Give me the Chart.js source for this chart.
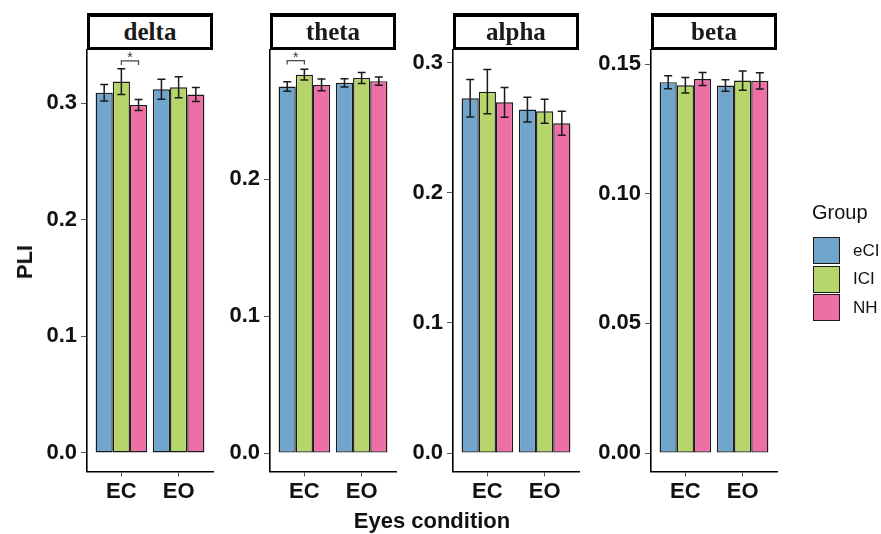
<!DOCTYPE html>
<html>
<head>
<meta charset="utf-8">
<script src="https://cdn.jsdelivr.net/npm/chart.js@4.4.1/dist/chart.umd.min.js"></script>
<style>
  body { margin: 0; background: #fff; }
  #wrap { position: relative; width: 881px; height: 534px; font-family: 'Liberation Sans', Arial, sans-serif; color: #111; }
  #wrap canvas { position: absolute; left: 0; top: 0; }
  .strip { position: absolute; top: 13px; height: 37px; box-sizing: border-box; border: 3px solid #000; border-top-width: 4px; background: #fff;
           font-family: 'Liberation Serif', 'Times New Roman', serif; font-weight: bold; font-size: 25px;
           color: #1a1a1a; text-align: center; line-height: 29px; }
  .lab { position: absolute; transform: translate(-50%, -50%); white-space: nowrap; font-weight: bold; font-size: 22px; color: #111; }
  .key { position: absolute; left: 813px; width: 27px; height: 27px; box-sizing: border-box; border: 1.5px solid #1a1a1a; }
  .keytxt { position: absolute; left: 853px; font-size: 17px; color: #111; transform: translateY(-50%); }
</style>
</head>
<body>
<div id="wrap">
  <canvas id="c0" width="881" height="534"></canvas>
  <canvas id="c1" width="881" height="534"></canvas>
  <canvas id="c2" width="881" height="534"></canvas>
  <canvas id="c3" width="881" height="534"></canvas>
  <div id="strips"></div>
  <div class="lab" style="left:25px; top:262px; transform:translate(-50%,-50%) rotate(-90deg);">PLI</div>
  <div class="lab" style="left:432px; top:521px;">Eyes condition</div>
  <div id="legend">
    <div style="position:absolute; left:812px; top:201px; font-size:20px; color:#111;">Group</div>
  </div>
</div>
<script>
// facets, groups and conditions
const bands = ['delta', 'theta', 'alpha', 'beta'];
const groups = ['eCI', 'ICI', 'NH'];
const conditions = ['EC', 'EO'];
const groupColors = ['#72A5CC', '#B6D66B', '#EE6FA6'];

// mean PLI, one row per group (eCI, ICI, NH), columns = EC, EO
const deltaMeans = [[0.309, 0.312], [0.3186, 0.3137], [0.2986, 0.3075]];
const thetaMeans = [[0.2679, 0.2706], [0.2766, 0.2742], [0.2691, 0.2718]];
const alphaMeans = [[0.2727, 0.264], [0.2778, 0.2627], [0.2696, 0.2535]];
const betaMeans  = [[0.143, 0.1417], [0.1418, 0.1436], [0.1442, 0.1435]];

// error bar half lengths, same layout
const deltaErrors = [[0.007, 0.0085], [0.011, 0.009], [0.0047, 0.006]];
const thetaErrors = [[0.0035, 0.003], [0.004, 0.004], [0.0043, 0.003]];
const alphaErrors = [[0.0144, 0.0095], [0.017, 0.0093], [0.0114, 0.0092]];
const betaErrors  = [[0.0025, 0.0022], [0.003, 0.0037], [0.0025, 0.0031]];

// y ticks and y limits per facet
const deltaTicks = [0, 0.1, 0.2, 0.3];
const thetaTicks = [0, 0.1, 0.2];
const alphaTicks = [0, 0.1, 0.2, 0.3];
const betaTicks  = [0, 0.05, 0.10, 0.15];
const tickDecimals = [1, 1, 1, 2];
const yMins = [-0.0159, -0.0135, -0.0142, -0.0071];
const yMaxs = [0.3457, 0.2946, 0.3098, 0.1554];

// significance brackets (facet, condition, pair of groups, bracket height)
const sigBands = ['delta', 'theta'];
const sigConditions = ['EC', 'EC'];
const sigPairs = [['ICI', 'NH'], ['eCI', 'ICI']];
const sigLevels = [0.3363, 0.2869];
const sigLabels = ['*', '*'];

const allMeans = [deltaMeans, thetaMeans, alphaMeans, betaMeans];
const allErrors = [deltaErrors, thetaErrors, alphaErrors, betaErrors];
const allTicks = [deltaTicks, thetaTicks, alphaTicks, betaTicks];

// layout
const panelLeft = [87, 270, 453, 651];
const PANEL_W = 126;
const PANEL_TOP = 50;
const PANEL_BOTTOM = 471.5;
const Y_AXIS_W = 60;
const X_AXIS_H = 40;
const INK = '#1a1a1a';

const errorBars = {
  id: 'errorBars',
  afterDatasetsDraw(chart) {
    const ctx = chart.ctx;
    const y = chart.scales.y;
    const errs = chart.options.plugins.errorBars.errors;
    const means = chart.options.plugins.errorBars.means;
    ctx.save();
    ctx.strokeStyle = INK;
    ctx.lineWidth = 1.5;
    chart.data.datasets.forEach((ds, gi) => {
      const meta = chart.getDatasetMeta(gi);
      meta.data.forEach((bar, ci) => {
        const m = means[gi][ci], e = errs[gi][ci];
        const top = y.getPixelForValue(m + e), bot = y.getPixelForValue(m - e);
        ctx.beginPath();
        ctx.moveTo(bar.x, top); ctx.lineTo(bar.x, bot);
        ctx.moveTo(bar.x - 4, top); ctx.lineTo(bar.x + 4, top);
        ctx.moveTo(bar.x - 4, bot); ctx.lineTo(bar.x + 4, bot);
        ctx.stroke();
      });
    });
    // brackets
    const band = chart.options.plugins.errorBars.band;
    sigBands.forEach((b, k) => {
      if (b !== band) return;
      const ci = conditions.indexOf(sigConditions[k]);
      const x1 = chart.getDatasetMeta(groups.indexOf(sigPairs[k][0])).data[ci].x;
      const x2 = chart.getDatasetMeta(groups.indexOf(sigPairs[k][1])).data[ci].x;
      const yy = y.getPixelForValue(sigLevels[k]);
      ctx.strokeStyle = '#444';
      ctx.lineWidth = 1.2;
      ctx.beginPath();
      ctx.moveTo(x1, yy + 4); ctx.lineTo(x1, yy); ctx.lineTo(x2, yy); ctx.lineTo(x2, yy + 4);
      ctx.stroke();
      ctx.fillStyle = '#333';
      ctx.font = '14px "Liberation Sans", Arial, sans-serif';
      ctx.textAlign = 'center';
      ctx.textBaseline = 'alphabetic';
      ctx.fillText(sigLabels[k], (x1 + x2) / 2, yy + 1.5);
    });
    ctx.restore();
  }
};

const tickFont = { family: "'Liberation Sans', Arial, sans-serif", size: 22, weight: 'bold' };

bands.forEach((band, p) => {
  const means = allMeans[p];
  const ticks = allTicks[p];
  const datasets = groups.map((g, gi) => ({
    label: g,
    data: conditions.map((c, ci) => ({ x: ci + 1, y: means[gi][ci] })),
    backgroundColor: groupColors[gi],
    borderColor: INK,
    borderWidth: 1.4,
    borderSkipped: false,
    categoryPercentage: 0.9,
    barPercentage: 1
  }));

  new Chart(document.getElementById('c' + p), {
    type: 'bar',
    data: { datasets },
    options: {
      responsive: false,
      animation: false,
      events: [],
      layout: {
        padding: {
          left: panelLeft[p] - Y_AXIS_W,
          right: 881 - panelLeft[p] - PANEL_W,
          top: PANEL_TOP,
          bottom: 534 - PANEL_BOTTOM - X_AXIS_H
        }
      },
      plugins: {
        legend: { display: false },
        tooltip: { enabled: false },
        errorBars: { errors: allErrors[p], means: means, band: band }
      },
      scales: {
        x: {
          type: 'linear',
          min: 0.4, max: 2.6,
          offset: false,
          afterBuildTicks: s => { s.ticks = conditions.map((c, i) => ({ value: i + 1 })); },
          afterFit: s => { s.height = X_AXIS_H; },
          ticks: { callback: v => conditions[v - 1], font: tickFont, color: '#111', padding: 2, maxRotation: 0, autoSkip: false },
          grid: { drawOnChartArea: false, drawTicks: true, tickLength: 5, color: '#555', offset: false },
          border: { display: true, color: '#000', width: 1.6 }
        },
        y: {
          min: yMins[p], max: yMaxs[p],
          afterBuildTicks: s => { s.ticks = ticks.map(v => ({ value: v })); },
          afterFit: s => { s.width = Y_AXIS_W; },
          ticks: { callback: v => v.toFixed(tickDecimals[p]), font: tickFont, color: '#111', padding: 4 },
          grid: { drawOnChartArea: false, drawTicks: true, tickLength: 6, color: '#555' },
          border: { display: true, color: '#000', width: 1.6 }
        }
      }
    },
    plugins: [errorBars]
  });

  const s = document.createElement('div');
  s.className = 'strip';
  s.style.left = panelLeft[p] + 'px';
  s.style.width = PANEL_W + 'px';
  s.textContent = band;
  document.getElementById('strips').appendChild(s);
});

// legend keys
const legend = document.getElementById('legend');
groups.forEach((g, gi) => {
  const top = 237 + gi * 28.7;
  const k = document.createElement('div');
  k.className = 'key';
  k.style.top = top + 'px';
  k.style.background = groupColors[gi];
  legend.appendChild(k);
  const t = document.createElement('div');
  t.className = 'keytxt';
  t.style.top = (top + 13.5) + 'px';
  t.textContent = g;
  legend.appendChild(t);
});
</script>
</body>
</html>
